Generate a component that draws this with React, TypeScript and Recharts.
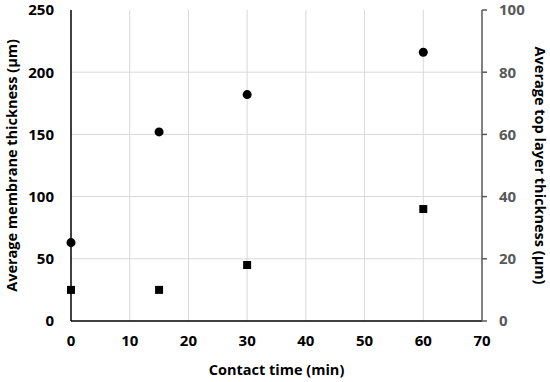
import React from 'react';
import { ScatterChart, Scatter, XAxis, YAxis, CartesianGrid, Label } from 'recharts';

const contactTime = [0, 15, 30, 60];
const membraneThickness = [63, 152, 182, 216];
const topLayerThickness = [10, 10, 18, 36];
const xTicks = [0, 10, 20, 30, 40, 50, 60, 70];
const leftTicks = [0, 50, 100, 150, 200, 250];
const rightTicks = [0, 20, 40, 60, 80, 100];

const membraneData = contactTime.map((t, i) => ({ x: t, y: membraneThickness[i] }));
const topData = contactTime.map((t, i) => ({ x: t, y: topLayerThickness[i] }));

const FONT = '"Open Sans", sans-serif';

const RotLabel = (text: string, dxFromLeft: number, angle: number) => (props: any) => {
  const vb = props.viewBox || {};
  const cx = vb.x + dxFromLeft;
  const cy = vb.y + vb.height / 2;
  return (
    <text
      x={cx}
      y={cy}
      transform={`rotate(${angle}, ${cx}, ${cy})`}
      textAnchor="middle"
      dominantBaseline="central"
      fill="#000"
      fontSize={14.5}
      fontWeight="bold"
      fontFamily={FONT}
    >
      {text}
    </text>
  );
};

export default function App() {
  return (
    <div style={{ position: 'absolute', left: 0, top: 0, background: '#fff' }}>
      <ScatterChart width={550} height={382} margin={{ top: 10, right: 0, bottom: 0, left: 0 }}>
        <CartesianGrid
          stroke="#d9d9d9"
          strokeWidth={1}
          horizontalValues={[50, 100, 150, 200]}
          verticalValues={[10, 20, 30, 40, 50, 60]}
          yAxisId="left"
        />
        <XAxis
          type="number"
          dataKey="x"
          domain={[0, 70]}
          ticks={xTicks}
          height={61}
          axisLine={{ stroke: '#000', strokeWidth: 1.5 }}
          tickLine={false}
          tickSize={0}
          tickMargin={14}
          tick={{ fill: '#000', fontSize: 15, fontWeight: 'bold', fontFamily: FONT }}
          label={{ value: 'Contact time (min)', position: 'insideBottom', offset: 7, fill: '#000', fontSize: 14.5, fontWeight: 'bold', fontFamily: FONT }}
        />
        <YAxis
          yAxisId="left"
          type="number"
          dataKey="y"
          domain={[0, 250]}
          ticks={leftTicks}
          width={71}
          axisLine={{ stroke: '#000', strokeWidth: 1.5 }}
          tickLine={false}
          tickSize={0}
          tickMargin={17}
          tick={{ fill: '#000', fontSize: 15, fontWeight: 'bold', fontFamily: FONT }}
        >
          <Label content={RotLabel('Average membrane thickness (µm)', 11, -90)} />
        </YAxis>
        <YAxis
          yAxisId="right"
          orientation="right"
          type="number"
          dataKey="y"
          domain={[0, 100]}
          ticks={rightTicks}
          width={68}
          axisLine={{ stroke: '#595959', strokeWidth: 1.5 }}
          tickLine={{ stroke: '#595959', strokeWidth: 1.5 }}
          tickSize={5}
          tickMargin={12}
          tick={{ fill: '#595959', fontSize: 15, fontWeight: 'bold', fontFamily: FONT }}
        >
          <Label content={RotLabel('Average top layer thickness (µm)', 58, 90)} />
        </YAxis>
        <Scatter yAxisId="left" data={membraneData} fill="#000" shape="circle" isAnimationActive={false} />
        <Scatter yAxisId="right" data={topData} fill="#000" shape="square" isAnimationActive={false} />
      </ScatterChart>
    </div>
  );
}
